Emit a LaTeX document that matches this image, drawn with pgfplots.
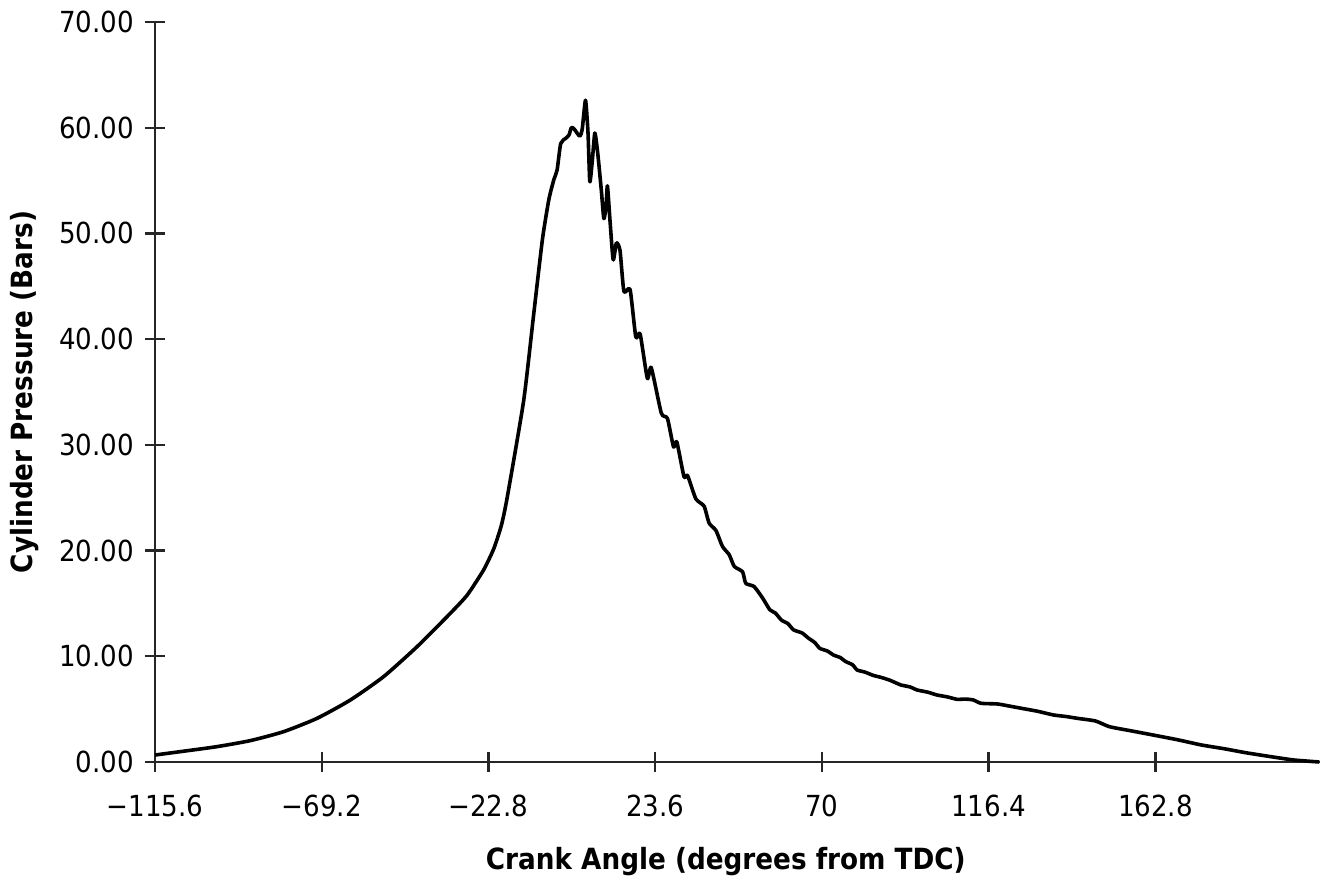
\documentclass[border=0pt]{standalone}
\usepackage{pgfplots}
\pgfplotsset{compat=1.18}
\usepackage{fontspec}
\setmainfont{DejaVu Sans Condensed}
\begin{document}
\begin{tikzpicture}
\path[use as bounding box] (-77.5pt,-60pt) rectangle (586pt,381pt);
\begin{axis}[
  scale only axis,
  width=582.5pt, height=370pt,
  xmin=-115.6, xmax=208.6,
  ymin=0, ymax=70,
  axis lines=left,
  axis line style={-, line width=1.2pt, black!85},
  tick style={line width=1.2pt, black!85},
  tick align=center,
  major tick length=10pt,
  xtick={-115.6,-69.2,-22.8,23.6,70,116.4,162.8},
  xticklabels={−115.6,−69.2,−22.8,23.6,70,116.4,162.8},
  ytick={0,10,20,30,40,50,60,70},
  yticklabels={0.00,10.00,20.00,30.00,40.00,50.00,60.00,70.00},
  ticklabel style={font=\fontsize{14.5}{16}\selectfont},
  xticklabel shift=8pt,
  yticklabel shift=2pt,
  xlabel={Crank Angle (degrees from TDC)},
  ylabel={Cylinder Pressure (Bars)},
  every axis x label/.style={at={(axis description cs:0.49,0)},anchor=center,yshift=-50pt,font=\bfseries\fontsize{14.6}{16}\selectfont},
  every axis y label/.style={at={(axis description cs:0,0.5)},xshift=-65pt,rotate=90,anchor=center,font=\bfseries\fontsize{14.6}{16}\selectfont},
  clip=false,
]
\addplot[black, line width=1.8pt, line join=round, smooth, tension=0.35] table {
x y
-115.6 0.66
-107 1.05
-98.4 1.45
-89.1 2.02
-79.8 2.87
-70.5 4.13
-61.2 5.87
-52.0 8.07
-42.7 10.9
-33.4 14.07
-28.7 15.8
-24.1 18.2
-21.3 20.2
-19.2 22.4
-17.6 25.0
-13.0 34.2
-10.2 42.4
-7.8 49.4
-6.0 53.2
-4.6 55.1
-3.7 56.0
-2.7 58.5
-1.3 59.0
-0.4 59.3
0.25 60.0
1.0 59.9
2.6 59.2
3.3 59.9
4.2 62.6
4.9 59.5
5.4 54.9
6.1 56.9
6.8 59.5
7.6 57.6
8.6 54.1
9.3 51.4
9.9 52.5
10.3 54.5
11.0 51.3
11.9 47.5
12.8 49.1
13.8 48.4
14.9 44.5
16.6 44.7
18.2 40.2
19.4 40.5
21.4 36.3
22.5 37.3
25.3 33.0
27.0 32.5
28.7 29.8
29.6 30.3
31.6 27.0
32.6 27.1
34.9 24.9
37.2 24.2
38.6 22.6
40.5 21.9
42.3 20.4
44.2 19.6
45.6 18.5
47.9 18.0
48.8 16.9
51.1 16.6
53.5 15.5
55.5 14.4
57.0 14.1
58.8 13.4
60.5 13.1
62.1 12.5
64.5 12.2
66.3 11.7
68.0 11.3
69.4 10.75
71.5 10.5
73.3 10.1
75.0 9.9
76.6 9.5
78.5 9.2
79.8 8.7
82.0 8.5
84.2 8.2
86.5 8.0
88.7 7.76
90.5 7.5
92.0 7.28
94.5 7.1
96.5 6.81
99.5 6.6
102.0 6.34
105 6.15
107.6 5.93
110 5.95
112.1 5.87
114.3 5.55
118.8 5.49
122 5.3
125.5 5.08
130 4.8
134.4 4.45
138 4.3
141.1 4.13
146.1 3.88
150.0 3.34
156 2.95
162.2 2.55
169 2.1
175.6 1.61
182 1.25
187.9 0.88
195 0.5
201.3 0.19
208.4 0.0
};
\end{axis}
\end{tikzpicture}
\end{document}
